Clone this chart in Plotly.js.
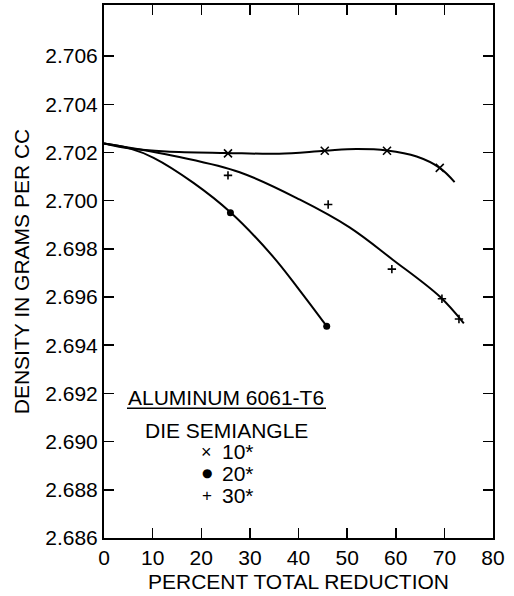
<!DOCTYPE html>
<html>
<head>
<meta charset="utf-8">
<script src="https://cdn.plot.ly/plotly-3.0.1.min.js"></script>
<style>html,body{margin:0;padding:0;background:#fff;}#chart{width:514px;height:596px;}</style>
</head>
<body>
<div id="chart"></div>
<script>
// Measured points (percent total reduction, density g/cc)
const m10_x = [25.5, 45.4, 58.2, 69.05];
const m10_y = [2.70196, 2.70207, 2.70207, 2.70136];
const m20_x = [26.0, 45.8];
const m20_y = [2.69950, 2.69479];
const m30_x = [25.5, 46.1, 59.2, 69.5, 73.0];
const m30_y = [2.70105, 2.69984, 2.69716, 2.69593, 2.69509];

// Faired curves
const c10_x = [0, 5.4, 12.8, 25.2, 36, 45.4, 51.9, 58.2, 64.3, 69.05, 72.1];
const c10_y = [2.70237, 2.70216, 2.70204, 2.70198, 2.70195, 2.70207, 2.70214, 2.70208, 2.70183, 2.70136, 2.70077];
const c20_x = [0, 5.4, 10.2, 18.4, 26.05, 34.8, 40.2, 45.8];
const c20_y = [2.70237, 2.70216, 2.70178, 2.70074, 2.69951, 2.69767, 2.69629, 2.69479];
const c30_x = [0, 15.5, 27.9, 40.2, 50.5, 59.45, 69.05, 74];
const c30_y = [2.70237, 2.70181, 2.70118, 2.70005, 2.69889, 2.69754, 2.69602, 2.69491];

const xTicks = [0, 10, 20, 30, 40, 50, 60, 70, 80];
const yTicks = [2.686, 2.688, 2.690, 2.692, 2.694, 2.696, 2.698, 2.700, 2.702, 2.704, 2.706];
const legendLabels = ['10*', '20*', '30*'];
const legendSymbols = ['\u00D7', '\u25CF', '+'];

const FONT = 'Liberation Sans, Arial, Helvetica, sans-serif';
const INK = '#000';
const FS = 21;

const lineStyle = {color: INK, width: 2, shape: 'spline', smoothing: 1};
const traces = [
  {x: c10_x, y: c10_y, mode: 'lines', line: lineStyle, hoverinfo: 'skip'},
  {x: c20_x, y: c20_y, mode: 'lines', line: lineStyle, hoverinfo: 'skip'},
  {x: c30_x, y: c30_y, mode: 'lines', line: lineStyle, hoverinfo: 'skip'},
  {x: m10_x, y: m10_y, mode: 'markers', marker: {symbol: 'x-thin-open', size: 8, color: INK, line: {color: INK, width: 1.6}}},
  {x: m20_x, y: m20_y, mode: 'markers', marker: {symbol: 'circle', size: 7, color: INK}},
  {x: m30_x, y: m30_y, mode: 'markers', marker: {symbol: 'cross-thin-open', size: 6, color: INK, line: {color: INK, width: 1.6}}}
];

const legY = [0.1619, 0.1214, 0.0794];
const symSize = [18, 12, 17];
const annotations = [
  {xref: 'paper', yref: 'paper', x: 0.3147, y: 0.2645, text: 'ALUMINUM 6061-T6', showarrow: false,
   xanchor: 'center', yanchor: 'middle', borderpad: 0, borderwidth: 0, font: {family: FONT, size: FS, color: INK}},
  {xref: 'paper', yref: 'paper', x: 0.3147, y: 0.2026, text: 'DIE SEMIANGLE', showarrow: false,
   xanchor: 'center', yanchor: 'middle', borderpad: 0, borderwidth: 0, font: {family: FONT, size: FS, color: INK}}
];
legendLabels.forEach((lab, i) => {
  annotations.push({xref: 'paper', yref: 'paper', x: 0.264, y: legY[i], text: legendSymbols[i], showarrow: false,
    xanchor: 'center', yanchor: 'middle', borderpad: 0, borderwidth: 0,
    font: {family: i === 1 ? 'DejaVu Sans, sans-serif' : FONT, size: symSize[i], color: INK}});
  annotations.push({xref: 'paper', yref: 'paper', x: 0.3044, y: legY[i], text: lab, showarrow: false,
    xanchor: 'left', yanchor: 'middle', borderpad: 0, borderwidth: 0, font: {family: FONT, size: FS, color: INK}});
});

const layout = {
  width: 514, height: 596,
  margin: {l: 104, r: 21, t: 5, b: 58},
  paper_bgcolor: '#fff', plot_bgcolor: '#fff',
  showlegend: false,
  font: {family: FONT, size: FS, color: INK},
  xaxis: {
    range: [0, 80], tickvals: xTicks, ticktext: xTicks.map(String),
    ticks: 'inside', ticklen: 10, tickwidth: 1.5, tickcolor: INK,
    showline: true, linecolor: INK, linewidth: 2, mirror: 'ticks',
    showgrid: false, zeroline: false,
    tickfont: {family: FONT, size: FS, color: INK},
    title: {text: 'PERCENT TOTAL REDUCTION', font: {family: FONT, size: FS, color: INK}, standoff: 6}
  },
  yaxis: {
    range: [2.686, 2.70812], tickvals: yTicks, ticktext: yTicks.map(v => v.toFixed(3)),
    ticks: 'inside', ticklen: 10, tickwidth: 1.5, tickcolor: INK,
    showline: true, linecolor: INK, linewidth: 2, mirror: 'ticks',
    showgrid: false, zeroline: false,
    tickfont: {family: FONT, size: FS, color: INK},
    title: {text: 'DENSITY IN GRAMS PER CC', font: {family: FONT, size: FS, color: INK}, standoff: 10}
  },
  shapes: [
    {type: 'line', xref: 'paper', yref: 'paper', x0: 0.0591, x1: 0.5707, y0: 0.2433, y1: 0.2433,
     line: {color: INK, width: 1.5}}
  ],
  annotations: annotations
};

Plotly.newPlot('chart', traces, layout, {displayModeBar: false, staticPlot: true});
</script>
</body>
</html>
